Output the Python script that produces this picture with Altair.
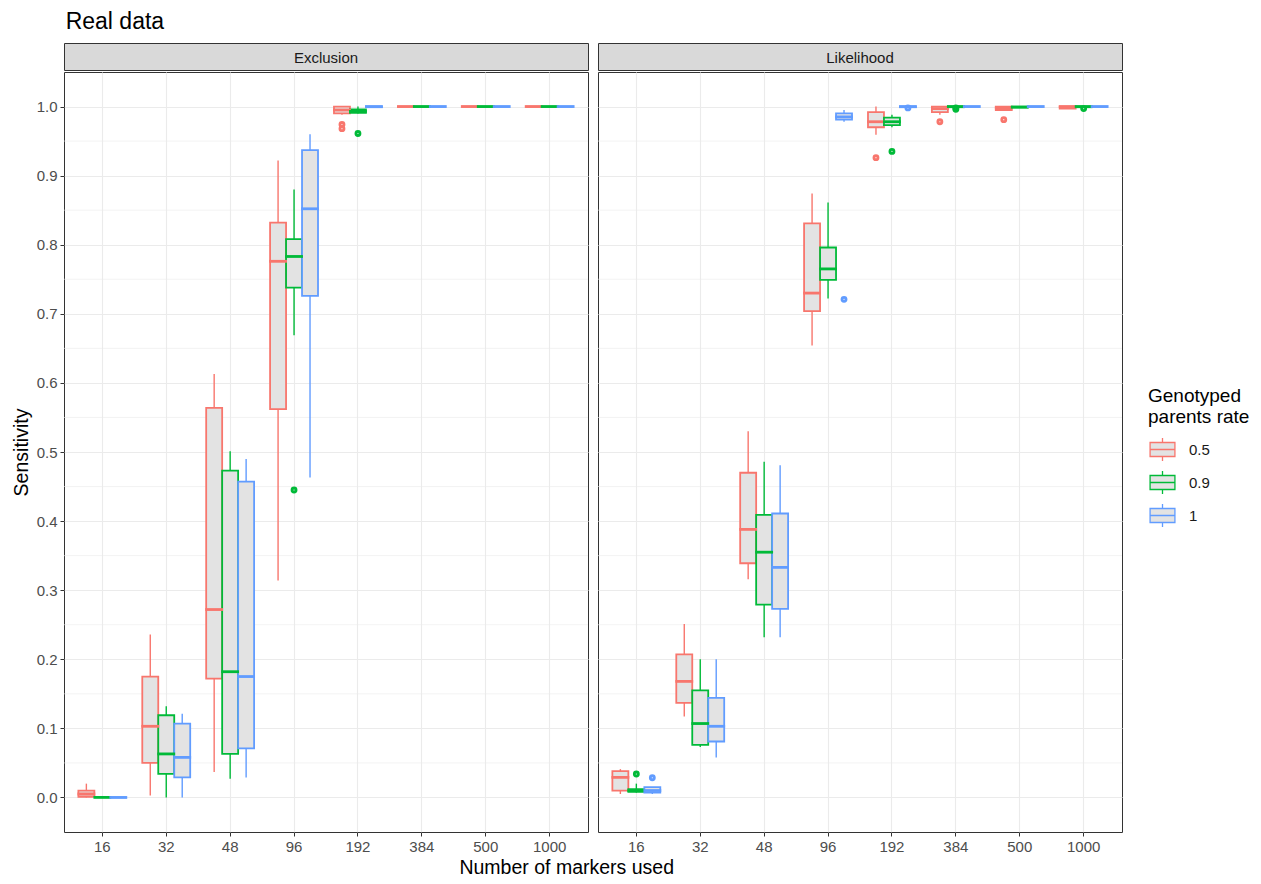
import altair as alt
import pandas as pd

FONT = "Liberation Sans"

markers = ["16", "32", "48", "96", "192", "384", "500", "1000"]
rates = ["0.5", "0.9", "1"]
methods = ["Exclusion", "Likelihood"]
palette = ["#F8766D", "#00BA38", "#619CFF"]
y_breaks = [0.0, 0.1, 0.2, 0.3, 0.4, 0.5, 0.6, 0.7, 0.8, 0.9, 1.0]
minor_breaks = [0.05, 0.15, 0.25, 0.35, 0.45, 0.55, 0.65, 0.75, 0.85, 0.95]

# ---- Exclusion: box statistics per rate (one value per marker count)
excl_low = {"0.5": [0.000, 0.003, 0.037, 0.314, 0.988, 1.0, 1.0, 1.0],
            "0.9": [0.000, 0.000, 0.027, 0.669, 0.990, 1.0, 1.0, 1.0],
            "1":   [0.000, 0.000, 0.029, 0.463, 0.998, 1.0, 1.0, 1.0]}
excl_q1 = {"0.5": [0.001, 0.050, 0.172, 0.562, 0.990, 1.0, 1.0, 1.0],
           "0.9": [0.000, 0.034, 0.063, 0.738, 0.991, 1.0, 1.0, 1.0],
           "1":   [0.000, 0.029, 0.071, 0.726, 0.999, 1.0, 1.0, 1.0]}
excl_med = {"0.5": [0.005, 0.103, 0.272, 0.776, 0.995, 1.0, 1.0, 1.0],
            "0.9": [0.000, 0.063, 0.182, 0.783, 0.993, 1.0, 1.0, 1.0],
            "1":   [0.000, 0.058, 0.175, 0.852, 1.000, 1.0, 1.0, 1.0]}
excl_q3 = {"0.5": [0.010, 0.175, 0.564, 0.832, 1.000, 1.0, 1.0, 1.0],
           "0.9": [0.000, 0.119, 0.473, 0.808, 0.996, 1.0, 1.0, 1.0],
           "1":   [0.000, 0.107, 0.457, 0.937, 1.000, 1.0, 1.0, 1.0]}
excl_high = {"0.5": [0.020, 0.236, 0.613, 0.922, 1.000, 1.0, 1.0, 1.0],
             "0.9": [0.000, 0.132, 0.501, 0.880, 1.000, 1.0, 1.0, 1.0],
             "1":   [0.000, 0.121, 0.490, 0.960, 1.000, 1.0, 1.0, 1.0]}
excl_out = {"0.5": [("192", 0.968), ("192", 0.974)],
            "0.9": [("96", 0.445), ("192", 0.961)],
            "1":   []}

# ---- Likelihood
lik_low = {"0.5": [0.005, 0.117, 0.316, 0.654, 0.959, 0.988, 0.995, 0.997],
           "0.9": [0.007, 0.073, 0.232, 0.722, 0.970, 0.998, 0.998, 0.998],
           "1":   [0.005, 0.058, 0.232, 0.978, 0.998, 1.0, 1.0, 1.0]}
lik_q1 = {"0.5": [0.010, 0.137, 0.339, 0.704, 0.970, 0.992, 0.995, 0.997],
          "0.9": [0.008, 0.076, 0.279, 0.749, 0.973, 0.999, 0.999, 0.999],
          "1":   [0.007, 0.081, 0.273, 0.981, 0.999, 1.0, 1.0, 1.0]}
lik_med = {"0.5": [0.029, 0.168, 0.388, 0.730, 0.978, 0.997, 0.998, 1.000],
           "0.9": [0.010, 0.107, 0.355, 0.765, 0.978, 1.000, 0.999, 1.000],
           "1":   [0.010, 0.103, 0.333, 0.985, 1.000, 1.0, 1.0, 1.0]}
lik_q3 = {"0.5": [0.038, 0.207, 0.470, 0.831, 0.992, 1.0, 1.0, 1.0],
          "0.9": [0.012, 0.155, 0.409, 0.796, 0.984, 1.0, 1.0, 1.0],
          "1":   [0.015, 0.144, 0.411, 0.990, 1.000, 1.0, 1.0, 1.0]}
lik_high = {"0.5": [0.041, 0.251, 0.530, 0.874, 1.000, 1.0, 1.0, 1.0],
            "0.9": [0.020, 0.200, 0.486, 0.861, 0.988, 1.0, 1.0, 1.0],
            "1":   [0.015, 0.200, 0.481, 0.995, 1.000, 1.0, 1.0, 1.0]}
lik_out = {"0.5": [("192", 0.926), ("384", 0.978), ("500", 0.981)],
           "0.9": [("16", 0.034), ("192", 0.935), ("384", 0.996), ("384", 0.998), ("1000", 0.997)],
           "1":   [("16", 0.0285), ("96", 0.721), ("192", 0.998)]}

stats = {
    "Exclusion": (excl_low, excl_q1, excl_med, excl_q3, excl_high, excl_out),
    "Likelihood": (lik_low, lik_q1, lik_med, lik_q3, lik_high, lik_out),
}

box_rows, out_rows = [], []
for method, (lo, q1, md, q3, hi, outl) in stats.items():
    for r in rates:
        for i, m in enumerate(markers):
            box_rows.append(dict(method=method, markers=m, rate=r, low=lo[r][i], q1=q1[r][i],
                                 med=md[r][i], q3=q3[r][i], high=hi[r][i]))
        for m, v in outl[r]:
            out_rows.append(dict(method=method, markers=m, rate=r, value=v))
box_df = pd.DataFrame(box_rows)
out_df = pd.DataFrame(out_rows)
minor_df = pd.DataFrame({"v": minor_breaks})

PW, PH, SH = 524, 760, 27

color_scale = alt.Scale(domain=rates, range=palette)
y_scale = alt.Scale(domain=[-0.05, 1.05], nice=False, zero=False)
legend_path = "M-0.92,-0.52H0.92V0.52H-0.92Z M-0.92,0H0.92 M0,-0.86V-0.52 M0,0.52V0.86"
legend_def = alt.Legend(title=["Genotyped", "parents rate"])


def S():
    return alt.Stroke("rate:N", scale=color_scale, legend=legend_def)


def panel(method, first):
    d = box_df[box_df.method == method]
    o = out_df[out_df.method == method]
    x = alt.X("markers:N", sort=markers,
              scale=alt.Scale(domain=markers, paddingInner=0, paddingOuter=0.1),
              axis=alt.Axis(title=None, labelAngle=0, grid=True, bandPosition=0.5, domain=False))
    xo = alt.XOffset("rate:N", sort=rates,
                     scale=alt.Scale(domain=rates, paddingInner=0, paddingOuter=0.5))
    if first:
        yax = alt.Axis(title="Sensitivity", values=y_breaks, format=".1f", grid=True, domain=False,
                       titlePadding=5)
    else:
        yax = alt.Axis(title=None, values=y_breaks, labels=False, ticks=False, grid=True, domain=False)

    def Y(field):
        return alt.Y(field, scale=y_scale, axis=yax)

    minor = alt.Chart(minor_df).mark_rule(color="#EBEBEB", strokeWidth=0.6).encode(y=Y("v:Q"))
    base = alt.Chart(d)
    box = base.mark_bar(fill="#E3E3E3", strokeWidth=1.8, opacity=1).encode(
        x=x, xOffset=xo, y=Y("q1:Q"), y2="q3:Q", stroke=S())
    whisk_lo = base.mark_rule(strokeWidth=1.4, opacity=1).encode(
        x=x, xOffset=xo, y=Y("low:Q"), y2="q1:Q", stroke=S())
    whisk_hi = base.mark_rule(strokeWidth=1.4, opacity=1).encode(
        x=x, xOffset=xo, y=Y("q3:Q"), y2="high:Q", stroke=S())
    med = base.mark_tick(filled=False, thickness=0.01, strokeWidth=2.8, size=15,
                         orient="horizontal", opacity=1).encode(
        x=x, xOffset=xo, y=Y("med:Q"), stroke=S())
    pts = alt.Chart(o).mark_point(filled=False, shape="circle", size=8, strokeWidth=4,
                                  opacity=1).encode(
        x=x, xOffset=xo, y=Y("value:Q"), stroke=S())
    main = alt.layer(minor, box, whisk_lo, whisk_hi, med, pts).properties(width=PW, height=PH)

    strip = alt.Chart(pd.DataFrame({"label": [method]})).mark_text(
        fontSize=15, color="#1A1A1A", font=FONT, baseline="middle", align="center"
    ).encode(text="label:N", x=alt.value(PW / 2), y=alt.value(SH / 2 + 1)).properties(
        width=PW, height=SH,
        view=alt.ViewBackground(fill="#D9D9D9", stroke="#333333", strokeWidth=1))
    return alt.vconcat(strip, main, spacing=0)


inner = alt.hconcat(panel("Exclusion", True), panel("Likelihood", False), spacing=8).resolve_scale(
    stroke="shared"
).properties(
    title=alt.TitleParams("Number of markers used", orient="bottom", anchor="middle",
                          fontSize=19.5, font=FONT, fontWeight="normal", color="#000000", offset=4),
)

chart = alt.vconcat(inner).properties(
    title=alt.TitleParams("Real data", anchor="start", fontSize=23, font=FONT,
                          fontWeight="normal", color="#000000", offset=9, dx=55),
    padding={"left": 2, "top": 2, "right": 0, "bottom": 0},
).configure_view(stroke="#333333", strokeWidth=1).configure_axis(
    labelFont=FONT, titleFont=FONT, labelFontSize=15, titleFontSize=19.5,
    labelColor="#4D4D4D", titleColor="#000000", titleFontWeight="normal",
    tickColor="#333333", tickSize=4, gridColor="#EBEBEB", gridWidth=1.1,
    labelPadding=3,
).configure_legend(
    orient="none", legendX=1084, legendY=344, padding=0,
    titleFont=FONT, labelFont=FONT, titleFontSize=19, labelFontSize=15,
    titleFontWeight="normal", titleColor="#000000", labelColor="#1A1A1A",
    titleLineHeight=21,
    symbolType=legend_path, symbolSize=729, symbolStrokeWidth=1.3,
    symbolFillColor="#E3E3E3", rowPadding=4, labelOffset=12, titlePadding=8,
)

chart.save("out.html", embed_options={"renderer": "svg", "actions": False})
